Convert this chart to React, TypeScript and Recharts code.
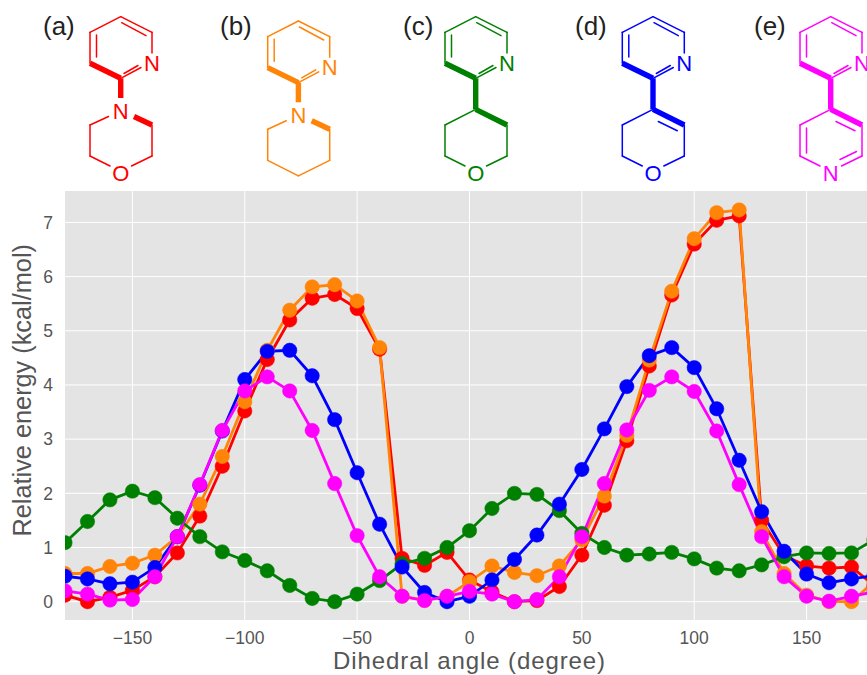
import React from 'react';
import { LineChart, Line, XAxis, YAxis, CartesianGrid } from 'recharts';

const angles = [
  -180, -170, -160, -150, -140, -130, -120, -110, -100, -90, -80, -70, -60, -50, -40, -30, -20, -10, 0,
  10, 20, 30, 40, 50, 60, 70, 80, 90, 100, 110, 120, 130, 140, 150, 160, 170, 180,
];
const morpholine = [
  0.12, 0, 0.08, 0.21, 0.46, 0.9, 1.58, 2.5, 3.52, 4.47, 5.2, 5.6, 5.67, 5.41, 4.66, 0.8, 0.67, 0.91, 0.4,
  0.18, 0, 0.02, 0.28, 0.86, 1.78, 2.97, 4.35, 5.66, 6.6, 7.04, 7.12, 1.5, 0.85, 0.66, 0.62, 0.64, 0.3,
];
const piperidine = [
  0.52, 0.52, 0.65, 0.71, 0.86, 1.2, 1.8, 2.68, 3.69, 4.64, 5.38, 5.81, 5.85, 5.55, 4.69, 0.1, 0.03, 0.1, 0.37,
  0.66, 0.54, 0.48, 0.66, 1.14, 1.95, 3.07, 4.46, 5.73, 6.7, 7.18, 7.23, 1.29, 0.52, 0.12, 0, 0, 0.37,
];
const oxane = [
  1.09, 1.48, 1.88, 2.04, 1.92, 1.54, 1.2, 0.92, 0.76, 0.57, 0.3, 0.06, 0, 0.14, 0.39, 0.7, 0.8, 1.0, 1.31,
  1.72, 2.0, 1.98, 1.68, 1.26, 1.0, 0.86, 0.88, 0.91, 0.79, 0.62, 0.57, 0.68, 0.83, 0.9, 0.89, 0.9, 1.14,
];
const dihydropyran = [
  0.47, 0.42, 0.33, 0.36, 0.63, 1.2, 2.15, 3.15, 4.1, 4.62, 4.64, 4.17, 3.36, 2.38, 1.43, 0.64, 0.17, 0, 0.1,
  0.4, 0.78, 1.23, 1.8, 2.44, 3.19, 3.97, 4.54, 4.69, 4.32, 3.56, 2.61, 1.66, 0.93, 0.51, 0.35, 0.42, 0.48,
];
const bipyridine = [
  0.2, 0.14, 0.03, 0.04, 0.46, 1.2, 2.16, 3.16, 3.89, 4.15, 3.89, 3.16, 2.18, 1.22, 0.46, 0.1, 0.02, 0.1, 0.19,
  0.14, 0, 0.04, 0.46, 1.2, 2.18, 3.17, 3.9, 4.15, 3.88, 3.15, 2.16, 1.2, 0.46, 0.1, 0.01, 0.1, 0.18,
];

const xTicks = [-150, -100, -50, 0, 50, 100, 150];
const yTicks = [0, 1, 2, 3, 4, 5, 6, 7];

const series = [
  { key: 'a', values: morpholine, color: '#ff0000' },
  { key: 'b', values: piperidine, color: '#ff8408' },
  { key: 'c', values: oxane, color: '#008000' },
  { key: 'd', values: dihydropyran, color: '#0000ff' },
  { key: 'e', values: bipyridine, color: '#ff00ff' },
];

const tableData = angles.map((angle, i) => {
  const row: Record<string, number> = { angle };
  series.forEach((s) => {
    row[s.key] = s.values[i];
  });
  return row;
});

const FONT = '"Liberation Sans", Arial, sans-serif';
const TICK_STYLE = { fill: '#555555', fontSize: 17.5, fontFamily: FONT };

// the structures above the plot, one drawing shifted per panel
type Seg = [number, number, number, number];

const pyridineThin: Seg[] = [
  [90, 63.3, 90, 32.3],
  [90, 32.3, 120.7, 16.7],
  [120.7, 16.7, 152, 32.3],
  [152, 32.3, 152, 53],
  [120.7, 78.3, 141, 67.5],
  [96.5, 57, 96.5, 35],
  [121.7, 22.7, 146, 35.7],
  [124, 73.5, 138, 65.5],
];
const pyridineBold: Seg[] = [
  [90, 63.3, 120.7, 78.3],
];

const ringSides: Seg[] = [
  [90, 125, 90, 156],
  [152, 125, 152, 156],
];
const toOxygen: Seg[] = [
  [90, 156, 110, 166],
  [152, 156, 131.5, 166],
];

interface MoleculeProps {
  label: string;
  labelX: number;
  dx: number;
  dy: number;
  color: string;
  kind: 'a' | 'b' | 'c' | 'd' | 'e';
}

const Molecule = ({ label, labelX, dx, dy, color, kind }: MoleculeProps) => {
  const hasLinkN = kind === 'a' || kind === 'b';
  const thin: Seg[] = [...pyridineThin, ...ringSides];
  const bold: Seg[] = [...pyridineBold];
  if (hasLinkN) {
    thin.push([108.5, 116.5, 90, 125]);
    bold.push([120.7, 78.3, 120.7, 98]);
    bold.push([134, 116.5, 152, 125]);
  } else {
    thin.push([120.7, 109.3, 90, 125]);
    bold.push([120.7, 78.3, 120.7, 109.3]);
    bold.push([120.7, 109.3, 152, 125]);
  }
  if (kind === 'b') {
    thin.push([90, 156, 120.7, 171.5], [152, 156, 120.7, 171.5]);
  } else {
    thin.push(...toOxygen);
  }
  if (kind === 'd' || kind === 'e') {
    thin.push([126, 121.5, 145, 130.7]);
  }
  if (kind === 'e') {
    thin.push([96.5, 128, 96.5, 153], [130, 159.5, 146.5, 151.5]);
  }
  const bottomLetter = kind === 'e' ? 'N' : 'O';
  return (
    <g>
      <text x={labelX} y={35} fontSize={26} fill="#222222" fontFamily={FONT}>
        {label}
      </text>
      <g transform={`translate(${dx},${dy})`}>
        {thin.map((s, i) => (
          <line key={i} x1={s[0]} y1={s[1]} x2={s[2]} y2={s[3]} stroke={color} strokeWidth={1.5} strokeLinecap="round" />
        ))}
        {bold.map((s, i) => (
          <line key={i} x1={s[0]} y1={s[1]} x2={s[2]} y2={s[3]} stroke={color} strokeWidth={5.4} strokeLinecap="butt" />
        ))}
        <text x={152} y={71} fontSize={22} fill={color} textAnchor="middle" fontFamily={FONT}>N</text>
        {hasLinkN && <text x={120.7} y={119} fontSize={22} fill={color} textAnchor="middle" fontFamily={FONT}>N</text>}
        {kind !== 'b' && (
          <text x={120.7} y={180.5} fontSize={22} fill={color} textAnchor="middle" fontFamily={FONT}>{bottomLetter}</text>
        )}
      </g>
    </g>
  );
};

const molecules: MoleculeProps[] = [
  { label: '(a)', labelX: 43, dx: 0, dy: 0, color: '#ff0000', kind: 'a' },
  { label: '(b)', labelX: 220, dx: 177.7, dy: 4.3, color: '#ff8408', kind: 'b' },
  { label: '(c)', labelX: 403, dx: 355, dy: 0, color: '#008000', kind: 'c' },
  { label: '(d)', labelX: 575, dx: 532.3, dy: 0, color: '#0000ff', kind: 'd' },
  { label: '(e)', labelX: 754, dx: 710, dy: 0, color: '#ff00ff', kind: 'e' },
];

const App = () => {
  return (
    <div style={{ position: 'fixed', left: 0, top: 0, width: 867, height: 675, overflow: 'hidden', background: '#ffffff', fontFamily: FONT }}>
      <svg width={867} height={190} style={{ position: 'absolute', left: 0, top: 0 }}>
        {molecules.map((m) => (
          <Molecule key={m.label} {...m} />
        ))}
      </svg>
      <div style={{ position: 'absolute', left: 0, top: 0 }}>
        <LineChart width={874} height={675} data={tableData} margin={{ top: 191, right: 0, left: 0, bottom: 0 }}>
          <CartesianGrid stroke="#ffffff" strokeWidth={1} fill="#e4e4e4" horizontalValues={yTicks} verticalValues={xTicks} />
          <XAxis
            dataKey="angle"
            type="number"
            domain={[-180, 180]}
            ticks={xTicks}
            allowDataOverflow
            height={55}
            axisLine={false}
            tickLine={false}
            tick={TICK_STYLE}
            tickMargin={6}
            tickFormatter={(v: number) => String(v).replace('-', '\u2212')}
            label={{
              value: 'Dihedral angle (degree)',
              position: 'insideBottom',
              offset: 6,
              style: { fill: '#555555', fontSize: 24, fontFamily: FONT, letterSpacing: 0.9 },
            }}
          />
          <YAxis
            type="number"
            domain={[-0.338, 7.58]}
            ticks={yTicks}
            allowDataOverflow
            width={65}
            axisLine={false}
            tickLine={false}
            tick={TICK_STYLE}
            tickMargin={6}
            label={{
              value: 'Relative energy (kcal/mol)',
              angle: -90,
              position: 'insideLeft',
              offset: 22,
              dy: 131,
              style: { fill: '#555555', fontSize: 25.3, fontFamily: FONT },
            }}
          />
          {series.map((s) => (
            <Line
              key={s.key}
              dataKey={s.key}
              type="linear"
              stroke={s.color}
              strokeWidth={2.8}
              dot={{ r: 7.2, fill: s.color, stroke: s.color, strokeWidth: 0.5 }}
              activeDot={false}
              isAnimationActive={false}
            />
          ))}
        </LineChart>
      </div>
    </div>
  );
};

export default App;
